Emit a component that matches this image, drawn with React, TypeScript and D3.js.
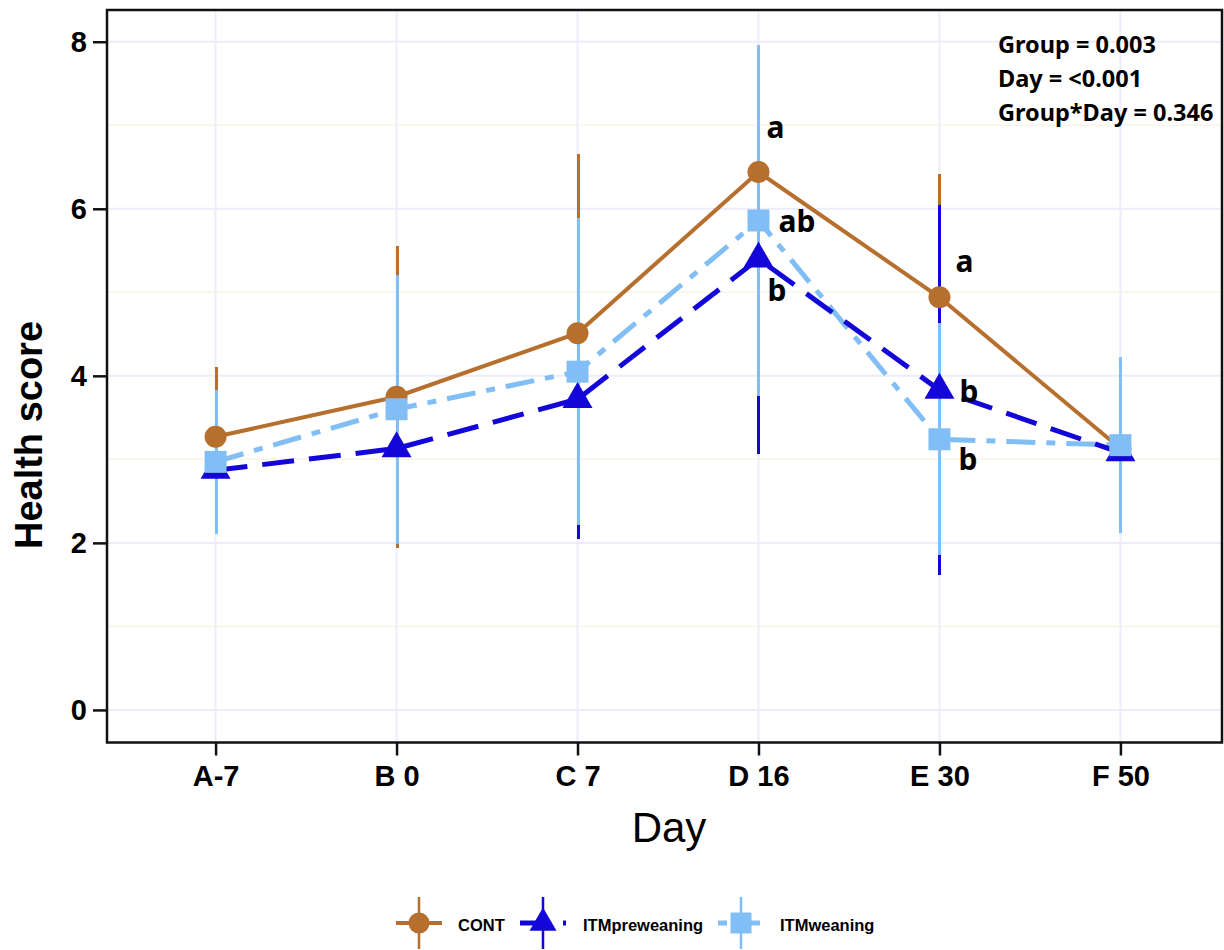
import React, { useRef, useEffect } from 'react'
import * as d3 from 'd3'

// chart values
const days = ['A-7', 'B 0', 'C 7', 'D 16', 'E 30', 'F 50']
const groups = ['CONT', 'ITMpreweaning', 'ITMweaning']
const contMean = [3.27, 3.75, 4.51, 6.44, 4.94, 3.13]
const contErr = [0.83, 1.81, 2.14, 1.4, 1.48, 0.9]
const preMean = [2.87, 3.13, 3.72, 5.4, 3.83, 3.08]
const preErr = [0.7, 1.05, 1.67, 2.33, 2.21, 0.9]
const weanMean = [2.97, 3.6, 4.05, 5.86, 3.24, 3.17]
const weanErr = [0.86, 1.61, 1.84, 2.1, 1.39, 1.05]
const yTicks = [0, 2, 4, 6, 8]
const yMinor = [1, 3, 5, 7]
const statLines = ['Group = 0.003', 'Day = <0.001', 'Group*Day = 0.346']
// significance letters: day, group, where the letter sits
const letters = [
    { day: 'D 16', group: 'CONT', text: 'a', pos: 'above' },
    { day: 'D 16', group: 'ITMweaning', text: 'ab', pos: 'right' },
    { day: 'D 16', group: 'ITMpreweaning', text: 'b', pos: 'below' },
    { day: 'E 30', group: 'CONT', text: 'a', pos: 'aboveRight' },
    { day: 'E 30', group: 'ITMpreweaning', text: 'b', pos: 'right' },
    { day: 'E 30', group: 'ITMweaning', text: 'b', pos: 'belowRight' },
]

const App = () => {
    const visEl = useRef(null)
    const width = 1224
    const height = 950

    useEffect(() => {
        document.body.style.margin = '0'
        const root = d3.select(visEl.current)
        root.selectAll('*').remove()
        const svg = root.append('svg')
            .attr('width', width)
            .attr('height', height)
            .style('display', 'block')

        const left = 107, right = 1222, top = 10, bottom = 742.5
        const xScale = d3.scalePoint().domain(days).range([left, 1229]).padding(0.6)
        const yScale = d3.scaleLinear().domain([-0.39, 8.38]).range([bottom, top])

        const series = [
            { name: groups[0], mean: contMean, err: contErr, color: '#b66f2d', dash: null, width: 4, shape: 'circle' },
            { name: groups[1], mean: preMean, err: preErr, color: '#1306d8', dash: '32,15', width: 5, shape: 'triangle' },
            { name: groups[2], mean: weanMean, err: weanErr, color: '#82bef6', dash: '29,11,9,11', width: 5, shape: 'square' },
        ]

        // grid
        const grid = svg.append('g')
        grid.selectAll('.minor').data(yMinor).enter().append('line')
            .attr('x1', left).attr('x2', right)
            .attr('y1', d => yScale(d)).attr('y2', d => yScale(d))
            .attr('stroke', '#f8f4e6').attr('stroke-width', 1.5)
        grid.selectAll('.major').data(yTicks).enter().append('line')
            .attr('x1', left).attr('x2', right)
            .attr('y1', d => yScale(d)).attr('y2', d => yScale(d))
            .attr('stroke', '#ededfa').attr('stroke-width', 2)
        grid.selectAll('.vert').data(days).enter().append('line')
            .attr('x1', d => xScale(d)).attr('x2', d => xScale(d))
            .attr('y1', top).attr('y2', bottom)
            .attr('stroke', '#ededfa').attr('stroke-width', 2)

        // error bars
        series.forEach(s => {
            svg.append('g').selectAll('line').data(days).enter().append('line')
                .attr('x1', d => Math.round(xScale(d))).attr('x2', d => Math.round(xScale(d)))
                .attr('y1', (d, i) => yScale(s.mean[i] + s.err[i]))
                .attr('y2', (d, i) => yScale(s.mean[i] - s.err[i]))
                .attr('stroke', s.color).attr('stroke-width', 3)
                .attr('shape-rendering', 'crispEdges')
        })

        // lines
        const line = d3.line<number>().x((d, i) => xScale(days[i])).y(d => yScale(d))
        ;[series[0], series[2], series[1]].forEach(s => {
            svg.append('path').datum(s.mean)
                .attr('d', line)
                .attr('fill', 'none')
                .attr('stroke', s.color)
                .attr('stroke-width', s.width)
                .attr('stroke-dasharray', s.dash)
        })

        const symbolFor = (shape, size) => {
            if (shape === 'circle') return d3.symbol(d3.symbolCircle, Math.PI * size * size / 4)()
            if (shape === 'square') return d3.symbol(d3.symbolSquare, size * size)()
            return d3.symbol(d3.symbolTriangle, Math.sqrt(3) / 4 * size * size)()
        }
        const markerSize = { circle: 22, square: 22, triangle: 30 }

        // markers
        series.forEach(s => {
            svg.append('g').selectAll('path').data(s.mean).enter().append('path')
                .attr('d', symbolFor(s.shape, markerSize[s.shape]))
                .attr('transform', (d, i) => `translate(${xScale(days[i])},${yScale(d)})`)
                .attr('fill', s.color)
        })

        // significance letters
        const offsets = {
            above: [8, -34], right: [20, 12], below: [9, 42],
            aboveRight: [16, -25], belowRight: [19, 31],
        }
        letters.forEach(l => {
            const s = series.find(q => q.name === l.group)
            const i = days.indexOf(l.day)
            const [dx, dy] = offsets[l.pos]
            svg.append('text')
                .attr('x', xScale(l.day) + dx)
                .attr('y', yScale(s.mean[i]) + dy)
                .attr('font-family', '"Noto Sans", "Open Sans", sans-serif')
                .attr('font-weight', 'bold')
                .attr('font-size', 30)
                .attr('fill', '#000')
                .text(l.text)
        })

        // p-values
        svg.append('g').selectAll('text').data(statLines).enter().append('text')
            .attr('x', 998)
            .attr('y', (d, i) => 53 + i * 34)
            .attr('font-family', '"Noto Sans", "Open Sans", sans-serif')
            .attr('font-weight', 'bold')
            .attr('font-size', 23.5)
            .attr('fill', '#000')
            .text(d => d)

        // frame
        svg.append('rect')
            .attr('x', left).attr('y', top)
            .attr('width', right - left).attr('height', bottom - top)
            .attr('fill', 'none').attr('stroke', '#111').attr('stroke-width', 2.5)

        // axes
        const yAxis = svg.append('g')
            .attr('transform', `translate(${left},0)`)
            .call(d3.axisLeft(yScale).tickValues(yTicks).tickSize(14).tickPadding(6))
        yAxis.select('.domain').remove()
        yAxis.selectAll('line').attr('stroke', '#111').attr('stroke-width', 2.5)
        yAxis.selectAll('text')
            .attr('font-family', 'Liberation Sans, Arial, sans-serif')
            .attr('font-weight', 'bold').attr('font-size', 29).attr('fill', '#000')

        const xAxis = svg.append('g')
            .attr('transform', `translate(0,${bottom})`)
            .call(d3.axisBottom(xScale).tickSize(13).tickPadding(10))
        xAxis.select('.domain').remove()
        xAxis.selectAll('line').attr('stroke', '#111').attr('stroke-width', 2.5)
        xAxis.selectAll('text')
            .attr('font-family', 'Liberation Sans, Arial, sans-serif')
            .attr('font-weight', 'bold').attr('font-size', 29).attr('fill', '#000')

        svg.append('text')
            .attr('x', 669).attr('y', 842)
            .attr('text-anchor', 'middle')
            .attr('font-family', 'Liberation Sans, Arial, sans-serif')
            .attr('font-size', 42)
            .text('Day')

        svg.append('text')
            .attr('transform', 'translate(42,435) rotate(-90)')
            .attr('text-anchor', 'middle')
            .attr('font-family', 'Liberation Sans, Arial, sans-serif')
            .attr('font-weight', 'bold')
            .attr('font-size', 38)
            .text('Health score')

        // legend
        const legendX = [419, 543, 741]
        const legendTextX = [458, 583, 780]
        const ly = 923
        series.forEach((s, k) => {
            const g = svg.append('g').attr('transform', `translate(${legendX[k]},${ly})`)
            g.append('line').attr('x1', 0).attr('x2', 0).attr('y1', -26).attr('y2', 26)
                .attr('stroke', s.color).attr('stroke-width', 2.5)
            if (k === 0) {
                g.append('line').attr('x1', -23).attr('x2', 23).attr('y1', 0).attr('y2', 0)
                    .attr('stroke', s.color).attr('stroke-width', 4)
            } else if (k === 1) {
                g.append('line').attr('x1', -23).attr('x2', -6).attr('y1', 0).attr('y2', 0)
                    .attr('stroke', s.color).attr('stroke-width', 5)
                g.append('line').attr('x1', 20).attr('x2', 23).attr('y1', 0).attr('y2', 0)
                    .attr('stroke', s.color).attr('stroke-width', 5)
            } else {
                g.append('line').attr('x1', -23).attr('x2', -14).attr('y1', 0).attr('y2', 0)
                    .attr('stroke', s.color).attr('stroke-width', 5)
                g.append('line').attr('x1', 10).attr('x2', 19).attr('y1', 0).attr('y2', 0)
                    .attr('stroke', s.color).attr('stroke-width', 5)
            }
            const sz = s.shape === 'triangle' ? 27 : 21
            g.append('path').attr('d', symbolFor(s.shape, sz)).attr('fill', s.color)
            svg.append('text')
                .attr('x', legendTextX[k]).attr('y', ly + 8)
                .attr('font-family', 'Liberation Sans, Arial, sans-serif')
                .attr('font-weight', 'bold')
                .attr('font-size', 16.5)
                .text(s.name)
        })
    }, [])

    return (
        <div>
            <div ref={visEl}></div>
        </div>
    )
}

export default App
